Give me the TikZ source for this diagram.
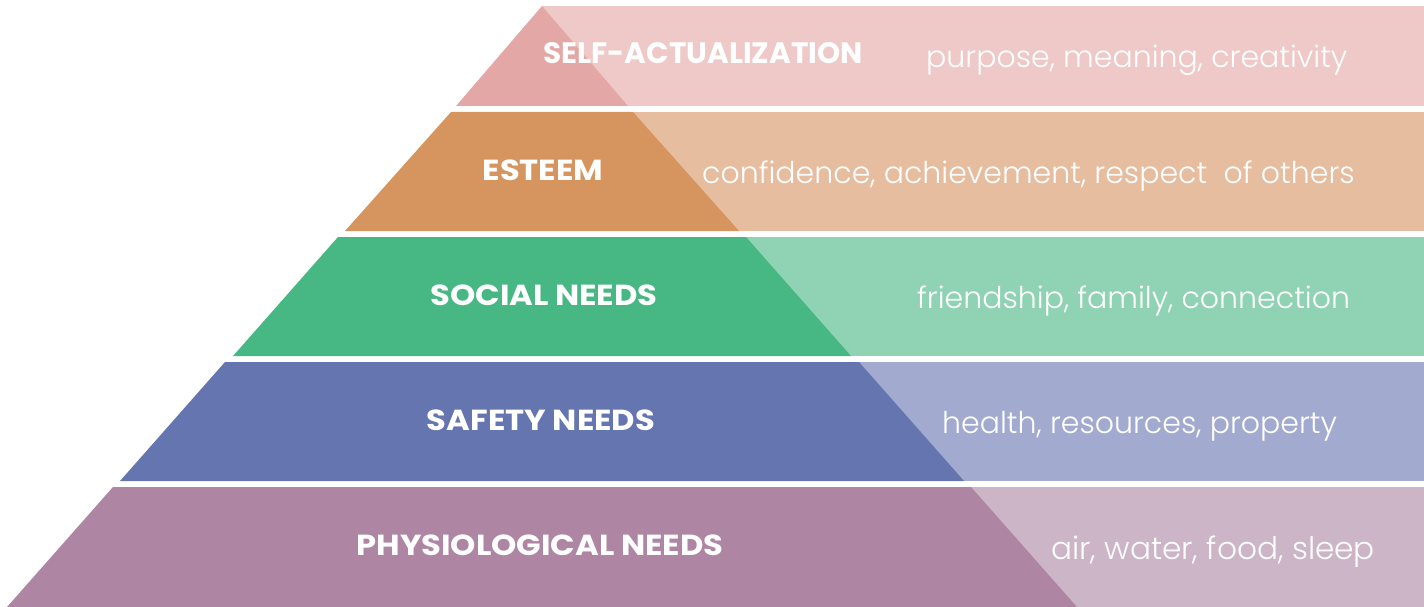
\documentclass[tikz,border=0pt]{standalone}
\usepackage{fontspec}
\setmainfont{Poppins}
\newfontfamily\lightfont{Poppins Light}
\newfontfamily\widebold{Poppins}[FakeStretch=1.11]
\usepackage{tikz}
\usetikzlibrary{positioning}
\definecolor{selfdark}{HTML}{E3A7A6}
\definecolor{selflight}{HTML}{EEC9C8}
\definecolor{esteemdark}{HTML}{D6955F}
\definecolor{esteemlight}{HTML}{E6BD9F}
\definecolor{socialdark}{HTML}{47B784}
\definecolor{sociallight}{HTML}{8FD3B4}
\definecolor{safetydark}{HTML}{6475AF}
\definecolor{safetylight}{HTML}{A2ABCF}
\definecolor{physdark}{HTML}{AE86A4}
\definecolor{physlight}{HTML}{CDB5C8}
\tikzstyle{level} = [font=\widebold\bfseries\fontsize{29}{29}\selectfont, text=white, anchor=base, inner sep=0pt]
\tikzstyle{toplevel} = [level, font=\bfseries\fontsize{29.5}{29.5}\selectfont]
\tikzstyle{detail} = [font=\lightfont\fontsize{30}{30}\selectfont, text=white, anchor=base west, inner sep=0pt]

\begin{document}
\begin{tikzpicture}[x=1pt, y=-1pt]
            \useasboundingbox (0,0) rectangle (1424,607);
            % self-actualization
            \fill[selflight] (542,6) rectangle (1424,106);
            \fill[selfdark] (542,6) -- (628,106) -- (456,106) -- cycle;
            \node[toplevel] (self) at (703,64) {SELF-ACTUALIZATION};
            \node[detail] (selftext) at (926,68) {purpose, meaning, creativity};
            % esteem
            \fill[esteemlight] (542,112) rectangle (1424,231);
            \fill[esteemdark] (451,112) -- (633,112) -- (739,231) -- (345,231) -- cycle;
            \node[level] (esteem) at (543,180) {ESTEEM};
            \node[detail] (esteemtext) at (702,183) {confidence, achievement, respect\ \ of others};
            % social needs
            \fill[sociallight] (542,237) rectangle (1424,356);
            \fill[socialdark] (338,237) -- (746,237) -- (851,356) -- (233,356) -- cycle;
            \node[level] (social) at (544,305) {SOCIAL NEEDS};
            \node[detail] (socialtext) at (917,308) {friendship, family, connection};
            % safety needs
            \fill[safetylight] (542,362) rectangle (1424,481);
            \fill[safetydark] (225,362) -- (859,362) -- (964,481) -- (120,481) -- cycle;
            \node[level] (safety) at (541,430) {SAFETY NEEDS};
            \node[detail] (safetytext) at (942,433) {health, resources, property};
            % physiological needs
            \fill[physlight] (542,487) rectangle (1424,607);
            \fill[physdark] (113,487) -- (971,487) -- (1077,607) -- (7,607) -- cycle;
            \node[level] (phys) at (540,555) {PHYSIOLOGICAL NEEDS};
            \node[detail, font=\lightfont\fontsize{31.2}{31.2}\selectfont] (phystext) at (1051,559) {air, water, food, sleep};
\end{tikzpicture}
\end{document}
